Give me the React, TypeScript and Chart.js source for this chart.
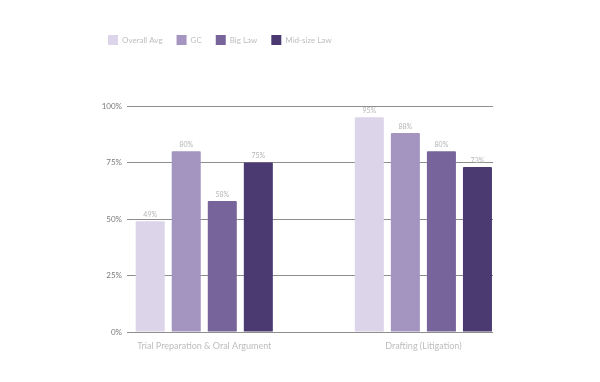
import React, { useEffect, useRef } from "react";
import { Chart, registerables } from "chart.js";

Chart.register(...registerables);

const categories = ["Trial Preparation & Oral Argument", "Drafting (Litigation)"];
const seriesNames = ["Overall Avg", "GC", "Big Law", "Mid-size Law"];
const overallAvg = [49, 95];
const gc = [80, 88];
const bigLaw = [58, 80];
const midLaw = [75, 73];
const seriesValues = [overallAvg, gc, bigLaw, midLaw];
const seriesColors = ["#dcd5e9", "#a394c0", "#76649b", "#4b3a71"];
const yTicks = [0, 25, 50, 75, 100];

const FONT = "Lato";

export default function App() {
  const ref = useRef<HTMLCanvasElement | null>(null);

  useEffect(() => {
    if (!ref.current) return;

    const legendSpacer = {
      id: "legendSpacer",
      beforeLayout(chart: any) {
        const legend = chart.legend;
        if (legend && !legend._spaced) {
          const orig = legend.fit;
          legend.fit = function () {
            orig.call(this);
            this.height = 85;
          };
          legend._spaced = true;
        }
      },
    };

    const valueLabels = {
      id: "valueLabels",
      afterDatasetsDraw(chart: any) {
        const ctx = chart.ctx;
        ctx.save();
        ctx.font = `7px ${FONT}`;
        ctx.fillStyle = "#b5b5b5";
        ctx.textAlign = "center";
        ctx.textBaseline = "bottom";
        chart.data.datasets.forEach((ds: any, i: number) => {
          const meta = chart.getDatasetMeta(i);
          meta.data.forEach((el: any, j: number) => {
            const v = ds.data[j].y;
            ctx.fillText(`${v}%`, el.x, el.y - 3);
          });
        });
        ctx.restore();
      },
    };

    const chart = new Chart(ref.current, {
      type: "bar",
      data: {
        datasets: seriesNames.map((name, i) => ({
          label: name,
          data: seriesValues[i].map((v, j) => ({ x: j, y: v })),
          backgroundColor: seriesColors[i],
          borderColor: seriesColors[i],
          borderWidth: 0,
          borderRadius: 1,
          categoryPercentage: 0.658,
          barPercentage: 0.805,
        })),
      },
      options: {
        animation: false,
        responsive: true,
        maintainAspectRatio: false,
        layout: { padding: { left: 86, right: 99, top: 13, bottom: 12 } },
        plugins: {
          legend: {
            display: true,
            position: "top",
            align: "start",
            labels: {
              boxWidth: 10,
              boxHeight: 10,
              padding: 14,
              color: "#bdbdbd",
              font: { family: FONT, size: 8 },
            },
          },
          tooltip: { enabled: false },
        },
        scales: {
          x: {
            type: "linear",
            offset: false,
            bounds: "data",
            min: -0.3526,
            max: 1.3177,
            grid: { display: false, drawTicks: false, offset: false },
            border: { display: false },
            afterBuildTicks: (axis: any) => {
              axis.ticks = categories.map((_, i) => ({ value: i }));
            },
            afterFit: (axis: any) => {
              axis.height = 30;
            },
            ticks: {
              padding: 9,
              color: "#bdbdbd",
              font: { family: FONT, size: 9 },
              maxRotation: 0,
              autoSkip: false,
              callback: (v: any) => categories[v] ?? "",
            },
          },
          y: {
            min: 0,
            max: 100,
            grid: { color: "#8e8e8e", lineWidth: 1, drawTicks: false },
            border: { display: false },
            afterBuildTicks: (axis: any) => {
              axis.ticks = yTicks.map((v) => ({ value: v }));
            },
            afterFit: (axis: any) => {
              axis.width = 33;
            },
            ticks: {
              padding: 5,
              color: "#7a7a7a",
              font: { family: FONT, size: 8 },
              callback: (v: any) => `${v}%`,
            },
          },
        },
      },
      plugins: [legendSpacer, valueLabels],
    } as any);

    return () => chart.destroy();
  }, []);

  return (
    <div style={{ width: 584, height: 366, position: "relative" }}>
      <canvas ref={ref} />
    </div>
  );
}
